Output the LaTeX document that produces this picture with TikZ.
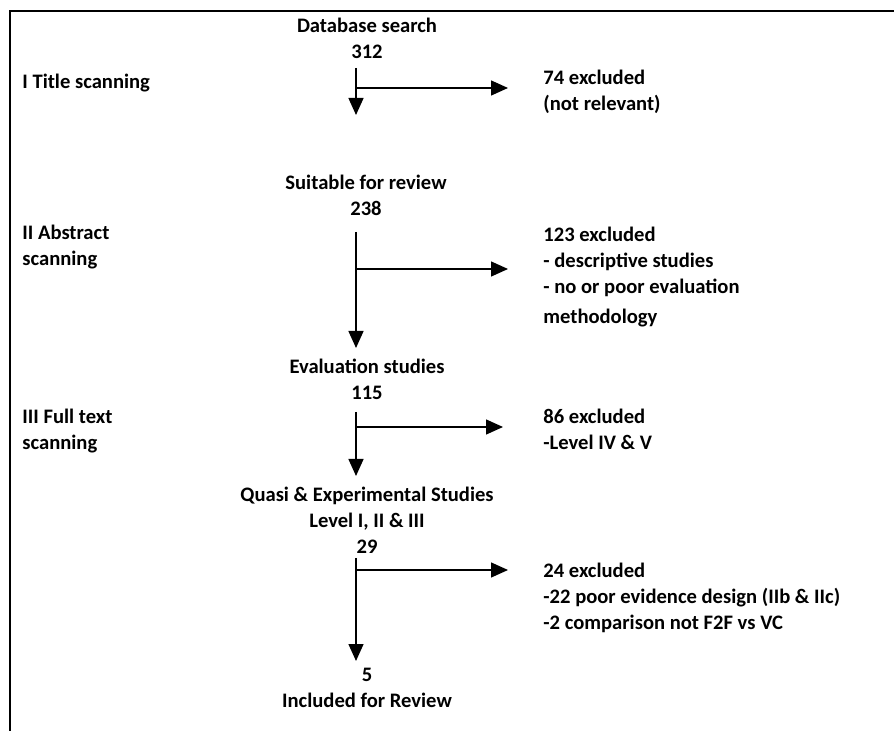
\documentclass[tikz,border=0pt]{standalone}
\usepackage{fontspec}
\setmainfont{Carlito}
\usepackage{tikz}
\usetikzlibrary{arrows.meta}
\tikzset{
  stage/.style={anchor=north, align=center, inner sep=0pt,
    font=\fontsize{10.3}{13}\selectfont\bfseries},
  excluded/.style={anchor=north west, align=left, inner sep=0pt,
    font=\fontsize{10.3}{13}\selectfont\bfseries},
  phase/.style={excluded},
  arrow/.style={-{Triangle[length=8.5pt, width=7.5pt]}, line width=0.7pt},
  frame/.style={line width=1.4pt},
}

\begin{document}
\begin{tikzpicture}[x=0.5pt, y=-0.5pt]
  \useasboundingbox (0,0) rectangle (894,731);
  \draw[frame] (10,731) -- (10,11) -- (894,11);

  % stages down the middle
  \node[stage] (search) at (367,18) {Database search\\312};
  \node[stage] (suitable) at (366,175) {Suitable for review\\238};
  \node[stage] (evaluation) at (367,359) {Evaluation studies\\115};
  \node[stage] (quasi) at (367,487) {Quasi \& Experimental Studies\\Level I, II \& III\\29};
  \node[stage] (included) at (367,668) {5\\Included for Review};

  % phases on the left
  \node[phase] (title) at (22,74) {I Title scanning};
  \node[phase] (abstract) at (22,225) {II Abstract\\scanning};
  \node[phase] (fulltext) at (22,409) {III Full text\\scanning};

  % exclusions on the right
  \node[excluded] (excl1) at (543,70) {74 excluded\\(not relevant)};
  \node[excluded] (excl2) at (543,227) {123 excluded\\- descriptive studies\\- no or poor evaluation\\[2pt]methodology};
  \node[excluded] (excl3) at (543,409) {86 excluded\\-Level IV \& V};
  \node[excluded] (excl4) at (543,563) {24 excluded\\-22 poor evidence design (IIb \& IIc)\\-2 comparison not F2F vs VC};

  \coordinate (trunk1) at (356,68);
  \coordinate (end1) at (356,115);
  \coordinate (fork1) at (356,88);
  \coordinate (trunk2) at (356,232);
  \coordinate (end2) at (356,348);
  \coordinate (fork2) at (356,269);
  \coordinate (trunk3) at (356,412);
  \coordinate (end3) at (356,476);
  \coordinate (fork3) at (356,427);
  \coordinate (trunk4) at (356,558);
  \coordinate (end4) at (356,661);
  \coordinate (fork4) at (356,570);

  \draw[arrow] (trunk1) -- (end1);
  \draw[arrow, shorten >=17.5pt] (fork1) -- (fork1 -| excl1.west);
  \draw[arrow] (trunk2) -- (end2);
  \draw[arrow, shorten >=17.5pt] (fork2) -- (fork2 -| excl2.west);
  \draw[arrow] (trunk3) -- (end3);
  \draw[arrow, shorten >=20pt] (fork3) -- (fork3 -| excl3.west);
  \draw[arrow] (trunk4) -- (end4);
  \draw[arrow, shorten >=17.5pt] (fork4) -- (fork4 -| excl4.west);
\end{tikzpicture}
\end{document}
